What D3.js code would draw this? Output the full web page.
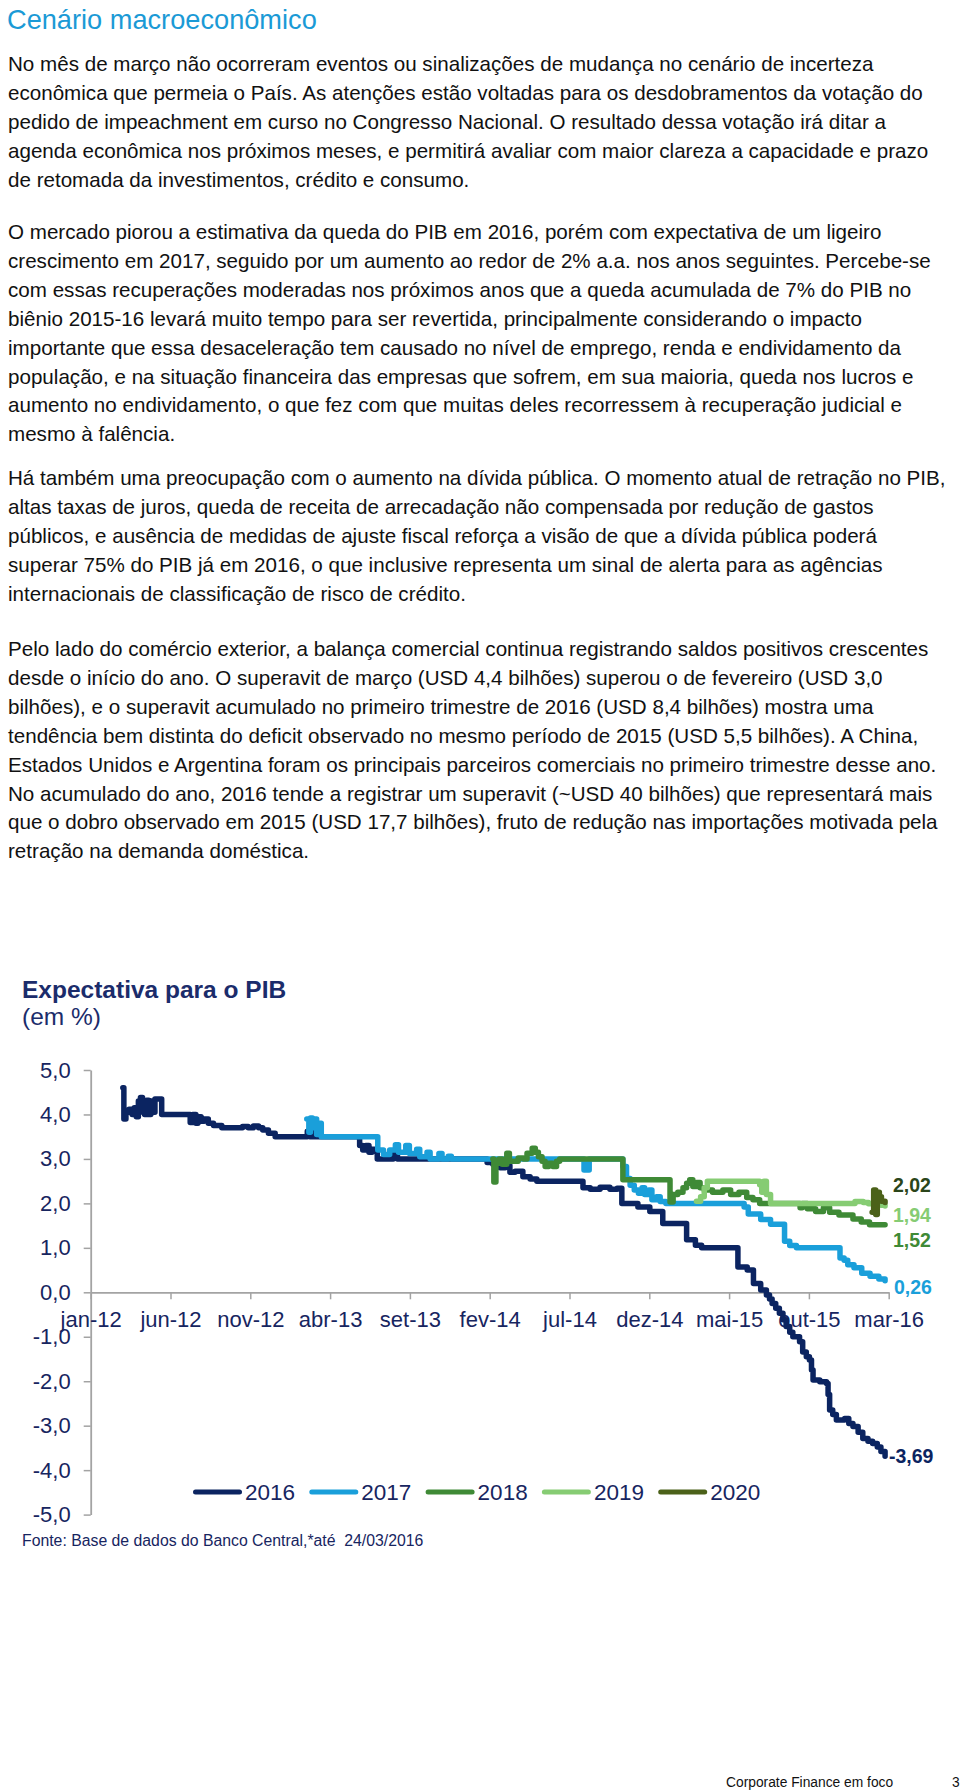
<!DOCTYPE html>
<html><head><meta charset="utf-8">
<script src="https://cdn.jsdelivr.net/npm/d3@7/dist/d3.min.js"></script>
<style>
html,body{margin:0;padding:0;background:#fff;}
svg{display:block;}
text{font-family:"Liberation Sans",Arial,Helvetica,sans-serif;}
</style></head><body>
<svg id="page" width="960" height="1791"></svg>
<script>
// ---------- DATA ----------
const seriesNames = ["2016","2017","2018","2019","2020"];

const dates2016 = ["2012-03-08","2012-03-10","2012-03-14","2012-03-20","2012-03-26","2012-03-30","2012-04-03","2012-04-07","2012-04-11","2012-04-15","2012-04-19","2012-04-23","2012-04-27","2012-05-01","2012-05-05","2012-05-09","2012-05-22","2012-07-16","2012-07-21","2012-07-27","2012-07-31","2012-08-06","2012-08-12","2012-08-20","2012-08-30","2012-09-15","2012-10-25","2012-11-05","2012-11-15","2012-11-25","2012-12-03","2012-12-14","2012-12-27","2013-02-27","2013-03-04","2013-03-08","2013-03-12","2013-06-08","2013-06-14","2013-06-20","2013-06-26","2013-07-02","2013-07-12","2013-08-12","2013-08-20","2014-02-09","2014-02-20","2014-03-06","2014-03-16","2014-03-25","2014-04-04","2014-04-19","2014-05-03","2014-05-16","2014-08-13","2014-08-27","2014-09-15","2014-10-04","2014-10-18","2014-10-27","2014-11-27","2014-12-20","2015-01-14","2015-03-01","2015-03-18","2015-03-30","2015-06-08","2015-06-26","2015-07-08","2015-07-22","2015-08-02","2015-08-08","2015-08-13","2015-08-20","2015-08-27","2015-09-03","2015-09-09","2015-09-16","2015-09-22","2015-10-05","2015-10-11","2015-10-18","2015-10-24","2015-10-28","2015-10-31","2015-11-13","2015-11-26","2015-11-29","2015-12-02","2015-12-08","2015-12-15","2015-12-31","2016-01-08","2016-01-16","2016-01-26","2016-02-04","2016-02-14","2016-02-23","2016-03-03","2016-03-10","2016-03-18"];
const values2016 = [4.6,3.9,4.05,4.12,4.0,4.15,3.95,4.3,4.38,4.05,4.0,4.32,4.0,4.3,4.05,4.35,4.0,3.82,4.0,3.8,3.95,3.85,3.9,3.8,3.75,3.7,3.73,3.7,3.74,3.7,3.65,3.58,3.5,3.62,3.5,3.6,3.5,3.3,3.2,3.3,3.15,3.22,3.0,3.1,3.0,2.92,2.88,2.8,2.85,2.7,2.72,2.6,2.55,2.5,2.35,2.32,2.36,2.32,2.34,2.0,1.92,1.82,1.55,1.18,1.06,1.0,0.57,0.5,0.2,0.05,-0.06,-0.15,-0.25,-0.36,-0.47,-0.62,-0.77,-0.9,-1.0,-1.11,-1.34,-1.45,-1.52,-1.75,-1.97,-2.01,-2.05,-2.3,-2.65,-2.75,-2.87,-2.84,-2.95,-3.02,-3.15,-3.29,-3.35,-3.4,-3.48,-3.58,-3.69];

const dates2017 = ["2013-02-26","2013-03-02","2013-03-05","2013-03-09","2013-03-13","2013-03-17","2013-03-21","2013-03-26","2013-07-13","2013-07-24","2013-08-05","2013-08-16","2013-08-22","2013-09-05","2013-09-12","2013-09-26","2013-10-02","2013-10-16","2013-10-22","2013-11-08","2013-11-14","2013-11-26","2013-12-02","2014-08-15","2014-08-25","2014-10-29","2014-11-05","2014-11-12","2014-11-20","2014-11-28","2014-12-05","2014-12-10","2014-12-18","2014-12-24","2015-01-02","2015-01-09","2015-01-20","2015-06-20","2015-06-28","2015-07-22","2015-08-10","2015-09-06","2015-09-16","2015-09-29","2015-12-22","2015-12-30","2016-01-06","2016-01-18","2016-02-02","2016-02-18","2016-03-06","2016-03-18"];
const values2017 = [3.9,3.6,3.92,3.7,3.9,3.55,3.8,3.5,3.2,3.1,3.2,3.32,3.15,3.3,3.12,3.22,3.05,3.15,3.0,3.12,3.0,3.06,3.0,2.75,3.0,2.83,2.56,2.41,2.3,2.23,2.35,2.2,2.3,2.08,2.15,2.04,2.0,1.92,1.76,1.64,1.53,1.15,1.05,1.0,0.77,0.72,0.62,0.55,0.43,0.36,0.3,0.26];

const dates2018 = ["2014-02-20","2014-02-22","2014-02-26","2014-03-04","2014-03-10","2014-03-19","2014-03-24","2014-04-10","2014-04-20","2014-04-27","2014-05-07","2014-05-13","2014-05-19","2014-05-26","2014-06-01","2014-06-08","2014-06-16","2014-06-23","2014-06-29","2014-10-29","2015-01-28","2015-02-03","2015-02-12","2015-02-22","2015-03-01","2015-03-07","2015-03-13","2015-03-20","2015-03-27","2015-04-04","2015-04-20","2015-05-10","2015-05-25","2015-06-10","2015-06-25","2015-07-07","2015-07-20","2015-10-06","2015-10-10","2015-10-20","2015-11-05","2015-11-20","2015-12-02","2015-12-20","2016-01-16","2016-02-01","2016-02-17","2016-03-18"];
const values2018 = [3.0,2.48,2.9,3.0,2.88,3.13,2.95,3.02,3.0,3.13,3.24,3.15,3.05,2.95,2.83,2.9,2.83,2.95,3.0,2.53,2.03,2.2,2.25,2.35,2.45,2.53,2.38,2.47,2.35,2.3,2.25,2.3,2.2,2.25,2.13,2.08,2.0,1.9,2.0,1.88,1.82,1.9,1.8,1.74,1.65,1.58,1.52,1.52];

const dates2019 = ["2015-03-20","2015-03-28","2015-04-04","2015-04-10","2015-07-20","2015-07-24","2015-07-28","2015-08-02","2015-08-10","2016-01-20","2016-02-05","2016-02-15","2016-03-10","2016-03-18"];
const values2019 = [2.05,2.15,2.35,2.5,2.42,2.25,2.5,2.2,2.0,2.04,2.02,1.99,1.96,1.94];

const dates2020 = ["2016-02-22","2016-02-25","2016-02-29","2016-03-03","2016-03-07","2016-03-11","2016-03-18"];
const values2020 = [1.8,2.3,1.75,2.25,2.15,2.05,2.02];

const tickDates = ["2012-01-06","2012-06-08","2012-11-09","2013-04-12","2013-09-13","2014-02-14","2014-07-18","2014-12-19","2015-05-22","2015-10-23","2016-03-25"];
const tickLabels = ["jan-12","jun-12","nov-12","abr-13","set-13","fev-14","jul-14","dez-14","mai-15","out-15","mar-16"];
const yTicks = [5,4,3,2,1,0,-1,-2,-3,-4,-5];
const endLabels = ["-3,69","0,26","1,52","1,94","2,02"];  // same order as seriesNames
const endValues = [-3.69,0.26,1.52,1.94,2.02];

// ---------- STYLE / LAYOUT ----------
const colors = ["#0b2461","#1a9fda","#3f8a36","#86cc73","#4b6119"];
const labelColors = ["#0b2461","#1a9fda","#3f8a36","#86cc73","#2b451a"];
const labelDy = [0,6,15,9,-18];
const labelX = [889,894,893,893,893];
const navy = "#17255f";
const FONT = '"Liberation Sans",Arial,Helvetica,sans-serif';

const paragraphs = [
 ["No mês de março não ocorreram eventos ou sinalizações de mudança no cenário de incerteza",
  "econômica que permeia o País. As atenções estão voltadas para os desdobramentos da votação do",
  "pedido de impeachment em curso no Congresso Nacional. O resultado dessa votação irá ditar a",
  "agenda econômica nos próximos meses, e permitirá avaliar com maior clareza a capacidade e prazo",
  "de retomada da investimentos, crédito e consumo."],
 ["O mercado piorou a estimativa da queda do PIB em 2016, porém com expectativa de um ligeiro",
  "crescimento em 2017, seguido por um aumento ao redor de 2% a.a. nos anos seguintes. Percebe-se",
  "com essas recuperações moderadas nos próximos anos que a queda acumulada de 7% do PIB no",
  "biênio 2015-16 levará muito tempo para ser revertida, principalmente considerando o impacto",
  "importante que essa desaceleração tem causado no nível de emprego, renda e endividamento da",
  "população, e na situação financeira das empresas que sofrem, em sua maioria, queda nos lucros e",
  "aumento no endividamento, o que fez com que muitas deles recorressem à recuperação judicial e",
  "mesmo à falência."],
 ["Há também uma preocupação com o aumento na dívida pública. O momento atual de retração no PIB,",
  "altas taxas de juros, queda de receita de arrecadação não compensada por redução de gastos",
  "públicos, e ausência de medidas de ajuste fiscal reforça a visão de que a dívida pública poderá",
  "superar 75% do PIB já em 2016, o que inclusive representa um sinal de alerta para as agências",
  "internacionais de classificação de risco de crédito."],
 ["Pelo lado do comércio exterior, a balança comercial continua registrando saldos positivos crescentes",
  "desde o início do ano. O superavit de março (USD 4,4 bilhões) superou o de fevereiro (USD 3,0",
  "bilhões), e o superavit acumulado no primeiro trimestre de 2016 (USD 8,4 bilhões) mostra uma",
  "tendência bem distinta do deficit observado no mesmo período de 2015 (USD 5,5 bilhões). A China,",
  "Estados Unidos e Argentina foram os principais parceiros comerciais no primeiro trimestre desse ano.",
  "No acumulado do ano, 2016 tende a registrar um superavit (~USD 40 bilhões) que representará mais",
  "que o dobro observado em 2015 (USD 17,7 bilhões), fruto de redução nas importações motivada pela",
  "retração na demanda doméstica."]
];
const paraTop = [71, 239, 485, 656];
const lineH = 28.9;

// ---------- DRAW ----------
const svg = d3.select("#page");
svg.append("rect").attr("width",960).attr("height",1791).attr("fill","#fff");

svg.append("text").attr("x",7).attr("y",29).attr("font-size",27.2)
   .attr("fill","#1b9ad6").text("Cenário macroeconômico");

paragraphs.forEach((p,pi)=>{
  p.forEach((line,li)=>{
    svg.append("text").attr("x",8).attr("y",paraTop[pi]+li*lineH)
      .attr("font-size",20.6).attr("fill","#111").text(line);
  });
});

// chart title
svg.append("text").attr("x",22).attr("y",998).attr("font-size",24.5)
  .attr("font-weight","bold").attr("fill","#1b2c6b").text("Expectativa para o PIB");
svg.append("text").attr("x",22).attr("y",1025).attr("font-size",24.5)
  .attr("fill","#1b2c6b").text("(em %)");

const parse = d3.utcParse("%Y-%m-%d");
const x = d3.scaleUtc()
  .domain([parse(tickDates[0]), parse(tickDates[tickDates.length-1])])
  .range([90.7, 888.7]);
const y = d3.scaleLinear().domain([-5,5]).range([1514.6,1070]);

const loc = d3.formatLocale({decimal:",",thousands:".",grouping:[3],currency:["R$",""],minus:"-"});
const fmt = loc.format(".1f");

// y axis
const gy = svg.append("g").attr("transform",`translate(${x.range()[0]},0)`)
  .call(d3.axisLeft(y).tickValues(yTicks).tickFormat(fmt).tickSize(7).tickSizeOuter(0).tickPadding(13));
gy.select(".domain").attr("stroke","#a3a3a3").attr("stroke-width",1.8);
gy.selectAll(".tick line").attr("stroke","#a3a3a3").attr("stroke-width",1.5);
gy.selectAll(".tick text").attr("font-size",22).attr("fill",navy).attr("font-family",FONT);

// x axis at zero
const gx = svg.append("g").attr("transform",`translate(0,${y(0)})`)
  .call(d3.axisBottom(x).tickValues(tickDates.map(parse)).tickFormat((d,i)=>tickLabels[i])
        .tickSize(7).tickSizeOuter(0));
gx.select(".domain").attr("stroke","#a3a3a3").attr("stroke-width",1.8);
gx.selectAll(".tick line").attr("stroke","#a3a3a3").attr("stroke-width",1.5);
gx.selectAll(".tick text").attr("font-size",22).attr("fill",navy).attr("font-family",FONT)
  .attr("y",35).attr("dy",0);

// series
const allDates = [dates2016,dates2017,dates2018,dates2019,dates2020];
const allValues = [values2016,values2017,values2018,values2019,values2020];
const series = seriesNames.map((name,i)=>({
  name, color: colors[i],
  pts: allDates[i].map((d,j)=>({date: parse(d), value: allValues[i][j]}))
}));
const line = d3.line().x(d=>x(d.date)).y(d=>y(d.value)).curve(d3.curveStepAfter);
svg.append("g").selectAll("path").data(series).join("path")
  .attr("d",d=>line(d.pts)).attr("fill","none").attr("stroke",d=>d.color)
  .attr("stroke-width",5.5).attr("stroke-linejoin","round").attr("stroke-linecap","round");

// end labels
svg.append("g").selectAll("text").data(endLabels).join("text")
  .attr("x",(d,i)=>labelX[i]).attr("y",(d,i)=>y(endValues[i])+labelDy[i])
  .attr("dy","0.36em").attr("font-size",19.5).attr("font-weight","bold")
  .attr("fill",(d,i)=>labelColors[i]).text(d=>d);

// legend
const lg = svg.append("g").selectAll("g").data(seriesNames).join("g")
  .attr("transform",(d,i)=>`translate(${193+i*116.3},1492)`);
lg.append("line").attr("x1",2.5).attr("x2",46.5).attr("y1",0).attr("y2",0)
  .attr("stroke",(d,i)=>colors[i]).attr("stroke-width",5).attr("stroke-linecap","round");
lg.append("text").attr("x",52).attr("y",0).attr("dy","0.36em").attr("font-size",22.5)
  .attr("fill",navy).text(d=>d);

// source
svg.append("text").attr("x",22).attr("y",1546).attr("font-size",15.8)
  .attr("fill",navy).style("white-space","pre")
  .text("Fonte: Base de dados do Banco Central,*até  24/03/2016");

// footer
svg.append("text").attr("x",726).attr("y",1787).attr("font-size",13.8)
  .attr("fill","#111").text("Corporate Finance em foco");
svg.append("text").attr("x",952).attr("y",1787).attr("font-size",13.8)
  .attr("fill","#111").text("3");
</script>
</body></html>
